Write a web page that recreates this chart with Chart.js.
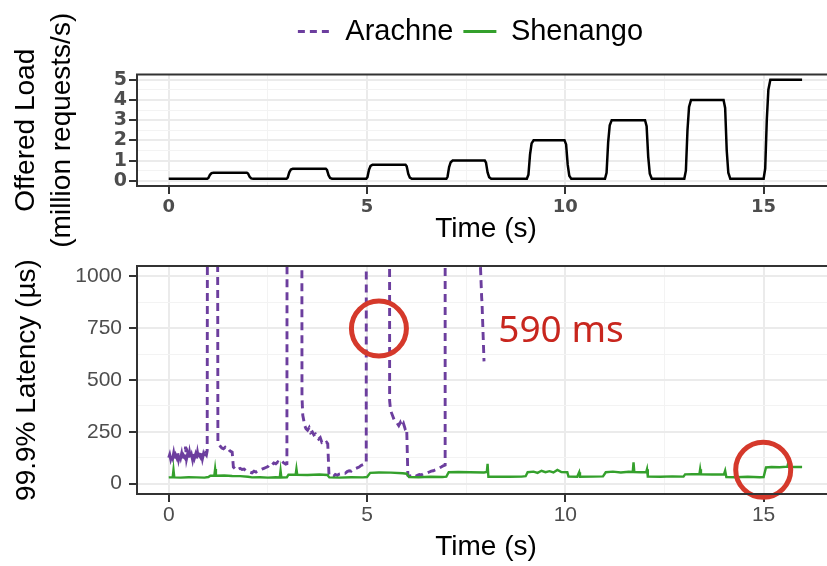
<!DOCTYPE html>
<html>
<head>
<meta charset="utf-8">
<script src="https://cdn.jsdelivr.net/npm/chart.js@4.4.1/dist/chart.umd.min.js"></script>
<style>
html, body { margin: 0; padding: 0; background: #fff; overflow: hidden; width: 827px; height: 566px; }
canvas { position: absolute; left: 0; }
#loadChart { top: 0; }
#latencyChart { top: 246px; }
</style>
</head>
<body>
<canvas id="loadChart" width="941" height="250"></canvas>
<canvas id="latencyChart" width="941" height="320"></canvas>
<script>
// offered load (million requests/s) over time (s)
const loadTime = [0, 0.97, 1.0, 1.04, 1.08, 1.13, 1.97, 2.0, 2.04, 2.08, 2.13,
    2.97, 3.0, 3.04, 3.08, 3.13, 3.96, 3.99, 4.03, 4.07, 4.12,
    4.98, 5.01, 5.05, 5.09, 5.14, 5.97, 6.0, 6.04, 6.08, 6.13,
    7.0, 7.03, 7.07, 7.11, 7.16, 7.97, 8.0, 8.04, 8.08, 8.13,
    9.03, 9.07, 9.11, 9.15, 9.2, 9.98, 10.02, 10.06, 10.1, 10.15,
    11.0, 11.04, 11.08, 11.12, 11.17, 12.01, 12.05, 12.09, 12.13, 12.18,
    13.0, 13.04, 13.08, 13.12, 13.17, 13.99, 14.03, 14.07, 14.11, 14.16,
    15.0, 15.04, 15.08, 15.12, 15.17, 15.97];
const loadValue = [0.1, 0.1, 0.14, 0.3, 0.38, 0.4, 0.4, 0.36, 0.2, 0.12, 0.1,
    0.1, 0.16, 0.42, 0.56, 0.6, 0.6, 0.54, 0.28, 0.14, 0.1,
    0.1, 0.18, 0.55, 0.74, 0.8, 0.8, 0.72, 0.35, 0.16, 0.1,
    0.1, 0.2, 0.68, 0.92, 1.0, 1.0, 0.9, 0.42, 0.18, 0.1,
    0.1, 0.3, 1.3, 1.85, 2.0, 2.0, 1.8, 0.8, 0.25, 0.1,
    0.1, 0.4, 1.9, 2.75, 3.0, 3.0, 2.7, 1.2, 0.35, 0.1,
    0.1, 0.5, 2.5, 3.65, 4.0, 4.0, 3.6, 1.5, 0.4, 0.1,
    0.1, 0.6, 3.0, 4.5, 5.0, 5.0];

// 99.9% latency (us), Arachne
const arachneTime = [0, 0.025, 0.05, 0.075, 0.1, 0.125, 0.15, 0.175, 0.2, 0.225, 0.25, 0.275, 0.3, 0.325,
    0.35, 0.375, 0.4, 0.425, 0.45, 0.475, 0.5, 0.525, 0.55, 0.575, 0.6, 0.625, 0.65, 0.675,
    0.7, 0.725, 0.75, 0.775, 0.8, 0.825, 0.85, 0.875, 0.9, 0.925, 0.95, 0.97,
    0.99, 1.22,
    1.24, 1.27, 1.3, 1.34, 1.38, 1.42, 1.46, 1.5, 1.54, 1.6,
    1.63, 1.67, 1.72, 1.76, 1.8, 1.85, 1.9, 1.95, 2.0, 2.05, 2.1, 2.15, 2.2, 2.25, 2.3, 2.35,
    2.4, 2.45, 2.5, 2.55, 2.6, 2.65, 2.7, 2.75, 2.8, 2.85, 2.9, 2.95, 2.98,
    3.01, 3.34,
    3.36, 3.38, 3.4, 3.43, 3.46, 3.5, 3.54, 3.58, 3.62, 3.66, 3.7, 3.74, 3.78, 3.82, 3.86, 3.9, 3.94, 3.98, 4.01,
    4.04, 4.08, 4.12, 4.16, 4.2, 4.25, 4.3, 4.35, 4.4, 4.45, 4.5, 4.55, 4.6, 4.65, 4.7, 4.75, 4.8, 4.85, 4.9, 4.95, 4.98,
    5.01, 5.55,
    5.57, 5.59, 5.62, 5.65, 5.68, 5.72, 5.76, 5.8, 5.84, 5.88, 5.92, 5.96, 6.0,
    6.03, 6.07, 6.12, 6.17, 6.22, 6.27, 6.32, 6.37, 6.42, 6.47, 6.52, 6.57, 6.62, 6.67, 6.72, 6.77, 6.82, 6.87, 6.92, 6.97,
    7.0, 7.6, 7.8, 7.85, 7.87, 7.88, 7.89, 7.9, 7.95];
const arachneLatency = [125, 140, 118, 135, 122, 148, 120, 138, 126, 152, 118, 140, 124, 145,
    115, 136, 128, 178, 120, 142, 118, 150, 122, 138, 116, 146, 124, 140,
    118, 150, 122, 136, 128, 148, 120, 142, 126, 145, 138, 158,
    4200, 3100,
    199, 188, 180, 172, 168, 175, 165, 168, 158, 152,
    80, 72, 78, 70, 74, 68, 70, 62, 58, 55, 52, 60, 56, 62, 66, 70,
    74, 78, 82, 95, 90, 100, 96, 105, 98, 108, 100, 94, 96,
    9800, 6000,
    420, 330, 310, 280, 265, 258, 270, 245, 250, 235, 240, 228, 215, 222, 200, 205, 195, 200, 192,
    45, 38, 42, 36, 44, 40, 46, 48, 52, 50, 58, 62, 60, 68, 72, 76, 80, 88, 92, 96, 100,
    25000, 12000,
    400, 360, 340, 325, 310, 300, 292, 280, 295, 275, 290, 265, 270,
    40, 36, 38, 42, 35, 40, 44, 42, 48, 50, 52, 56, 60, 62, 66, 70, 75, 80, 86, 90,
    590000, 210000, 30000, 1100, 1000, 950, 900, 870, 590];

// 99.9% latency (us), Shenango
const shenangoTime = [0, 0.1, 0.12, 0.14, 0.3, 0.5, 0.7, 0.9, 1.0, 1.05, 1.15, 1.17, 1.19, 1.4, 1.6, 1.8,
    2.0, 2.1, 2.3, 2.5, 2.7, 2.8, 2.82, 2.84, 2.98, 3.02, 3.2, 3.22, 3.24, 3.5, 3.8, 4.0,
    4.05, 4.3, 4.6, 4.9, 5.0, 5.08, 5.3, 5.6, 5.9, 6.0, 6.06, 6.3, 6.6, 6.9, 7.0, 7.06,
    7.3, 7.6, 7.95, 8.02, 8.04, 8.06, 8.3, 8.6, 8.9, 9.0, 9.05, 9.2, 9.3, 9.4, 9.5, 9.6,
    9.7, 9.8, 9.9, 10.05, 10.08, 10.3, 10.35, 10.37, 10.7, 10.95, 11.02, 11.2, 11.4, 11.6,
    11.7, 11.72, 11.74, 11.9, 12.04, 12.06, 12.08, 12.4, 12.7, 12.98, 13.02, 13.2, 13.38,
    13.4, 13.42, 13.7, 14.0, 14.03, 14.06, 14.3, 14.6, 14.9, 15.0, 15.06, 15.2, 15.4,
    15.6, 15.62, 15.64, 15.8, 15.97];
const shenangoLatency = [30, 31, 66, 30, 29, 31, 30, 29, 32, 38, 38, 71, 38, 39, 37, 36,
    33, 30, 31, 29, 31, 30, 63, 30, 31, 43, 43, 71, 43, 42, 44, 42,
    30, 29, 31, 30, 32, 52, 54, 53, 50, 48, 32, 31, 33, 32, 34, 55,
    56, 55, 54, 56, 95, 33, 34, 33, 34, 36, 55, 58, 52, 62, 55, 60,
    54, 66, 56, 55, 34, 33, 55, 33, 34, 35, 55, 58, 54, 57,
    56, 103, 56, 55, 56, 70, 34, 33, 35, 34, 45, 46, 45,
    70, 45, 44, 45, 63, 32, 31, 33, 31, 32, 78, 80, 79,
    82, 100, 81, 80, 80];

// tick labels
const timeLabels = [0, 5, 10, 15];
const loadLabels = [0, 1, 2, 3, 4, 5];
const latencyLabels = [0, 250, 500, 750, 1000];

const purple = '#6c3e9e';
const green = '#34a02c';
const red = '#d5392b';
const fontFamily = '"Liberation Sans", Arial, Helvetica, sans-serif';
const boldTickFont = '"DejaVu Sans", "Liberation Sans", sans-serif';

Chart.defaults.font.family = fontFamily;
Chart.defaults.animation = false;

function toPoints(xs, ys) {
    var pts = [];
    for (var i = 0; i < xs.length; i++) {
        pts.push({ x: xs[i], y: ys[i] });
    }
    return pts;
}

// grid with major / minor lines and outward tick marks on majors only
function gridOptions(labels) {
    return {
        color: function(c) { return c.tick && labels.includes(c.tick.value) ? '#ebebeb' : '#f3f3f3'; },
        lineWidth: function(c) { return c.tick && labels.includes(c.tick.value) ? 2 : 1; },
        tickLength: 8,
        tickWidth: 2,
        tickColor: function(c) { return c.tick && labels.includes(c.tick.value) ? '#333333' : 'rgba(0,0,0,0)'; }
    };
}

const panelBorder = {
    id: 'panelBorder',
    afterDatasetsDraw: function(chart) {
        const a = chart.chartArea;
        const ctx = chart.ctx;
        ctx.save();
        ctx.strokeStyle = '#333333';
        ctx.lineWidth = 2;
        ctx.strokeRect(a.left, a.top, a.right - a.left, a.bottom - a.top);
        ctx.restore();
    }
};

// red circles and the 590 ms note
const callouts = {
    id: 'callouts',
    afterDatasetsDraw: function(chart) {
        const ctx = chart.ctx;
        const x = chart.scales.x;
        const y = chart.scales.y;
        ctx.save();
        ctx.strokeStyle = red;
        ctx.lineWidth = 5;
        [[5.3, 748], [14.99, 67]].forEach(function(c) {
            ctx.beginPath();
            ctx.arc(x.getPixelForValue(c[0]), y.getPixelForValue(c[1]), 27.5, 0, Math.PI * 2);
            ctx.stroke();
        });
        ctx.fillStyle = '#c8261e';
        ctx.font = '37px "Noto Sans", "Open Sans", sans-serif';
        ctx.textBaseline = 'alphabetic';
        ctx.textAlign = 'left';
        ctx.fillText('590 ms', x.getPixelForValue(8.31), y.getPixelForValue(684));
        ctx.restore();
    }
};

const legendItems = [
    { text: 'Arachne', strokeStyle: purple, fillStyle: purple, lineWidth: 3, lineDash: [7, 5], pointStyle: 'line', hidden: false, fontColor: '#000' },
    { text: 'Shenango', strokeStyle: green, fillStyle: green, lineWidth: 3, lineDash: [], pointStyle: 'line', hidden: false, fontColor: '#000' }
];

new Chart(document.getElementById('loadChart'), {
    type: 'line',
    data: {
        datasets: [{
            label: 'Offered Load',
            data: toPoints(loadTime, loadValue),
            borderColor: '#000',
            borderWidth: 2.5,
            pointRadius: 0,
            tension: 0
        }]
    },
    options: {
        responsive: false,
        layout: { padding: { top: 7, left: 0, right: 0, bottom: 0 } },
        plugins: {
            tooltip: { enabled: false },
            legend: {
                position: 'top',
                labels: {
                    usePointStyle: true,
                    pointStyleWidth: 33,
                    padding: 10,
                    color: '#000',
                    font: { size: 29 },
                    generateLabels: function() { return legendItems; }
                }
            }
        },
        scales: {
            x: {
                type: 'linear', min: -0.8, max: 16.8,
                ticks: {
                    stepSize: 2.5, includeBounds: false, autoSkip: false, maxRotation: 0, padding: 3,
                    color: '#4d4d4d', font: { family: boldTickFont, size: 18, weight: 'bold' },
                    callback: function(v) { return timeLabels.includes(v) ? v : ''; }
                },
                grid: gridOptions(timeLabels),
                border: { display: false },
                title: { display: true, text: 'Time (s)', color: '#000', font: { size: 28 }, padding: { top: 0, bottom: 4 } },
                afterFit: function(s) { s.height = 64; }
            },
            y: {
                min: -0.255, max: 5.255,
                ticks: {
                    stepSize: 0.5, includeBounds: false, autoSkip: false, padding: 2,
                    color: '#4d4d4d', font: { family: boldTickFont, size: 19, weight: 'bold' },
                    callback: function(v) { return loadLabels.includes(v) ? v : ''; }
                },
                grid: gridOptions(loadLabels),
                border: { display: false },
                title: {
                    display: true, text: ['Offered Load', '(million requests/s)'], color: '#000',
                    font: { size: 28, lineHeight: 1.28 }, padding: { top: 8.6, bottom: 0 }
                },
                afterFit: function(s) { s.width = 137; }
            },
            // empty space: keeps the legend centred like the original figure
            padTop: {
                type: 'linear', position: 'top', display: true,
                grid: { display: false }, ticks: { display: false }, border: { display: false },
                afterFit: function(s) { s.height = 18.5; }
            },
            padRight: {
                type: 'linear', position: 'right', display: true,
                grid: { display: false }, ticks: { display: false }, border: { display: false },
                afterFit: function(s) { s.width = 106; }
            }
        }
    },
    plugins: [panelBorder]
});

new Chart(document.getElementById('latencyChart'), {
    type: 'line',
    data: {
        datasets: [{
            label: 'Arachne',
            data: toPoints(arachneTime, arachneLatency),
            borderColor: purple,
            borderWidth: 2.9,
            borderDash: [8, 5],
            pointRadius: 0,
            tension: 0,
            order: 1
        }, {
            label: 'Shenango',
            data: toPoints(shenangoTime, shenangoLatency),
            borderColor: green,
            borderWidth: 2.4,
            pointRadius: 0,
            tension: 0,
            order: 0
        }]
    },
    options: {
        responsive: false,
        layout: { padding: { top: 20, left: 0, right: 106, bottom: 0 } },
        plugins: {
            tooltip: { enabled: false },
            legend: { display: false }
        },
        scales: {
            x: {
                type: 'linear', min: -0.8, max: 16.8,
                ticks: {
                    stepSize: 2.5, includeBounds: false, autoSkip: false, maxRotation: 0, padding: 1,
                    color: '#4d4d4d', font: { size: 21 },
                    callback: function(v) { return timeLabels.includes(v) ? v : ''; }
                },
                grid: gridOptions(timeLabels),
                border: { display: false },
                title: { display: true, text: 'Time (s)', color: '#000', font: { size: 28 }, padding: { top: 0, bottom: 2 } },
                afterFit: function(s) { s.height = 72; }
            },
            y: {
                min: -50, max: 1050,
                ticks: {
                    stepSize: 125, includeBounds: false, autoSkip: false, padding: 7,
                    color: '#4d4d4d', font: { size: 21 },
                    callback: function(v) { return latencyLabels.includes(v) ? v : ''; }
                },
                grid: gridOptions(latencyLabels),
                border: { display: false },
                title: {
                    display: true, text: '99.9% Latency (\u00b5s)', color: '#000',
                    font: { size: 28 }, padding: { top: 10, bottom: 0 }
                },
                afterFit: function(s) { s.width = 137; }
            }
        }
    },
    plugins: [callouts, panelBorder]
});
</script>
</body>
</html>
